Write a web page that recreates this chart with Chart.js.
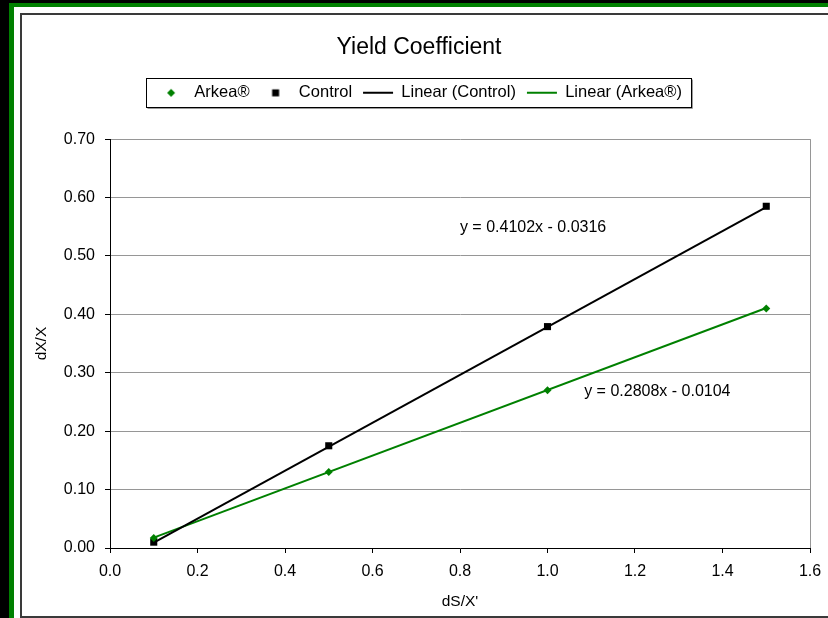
<!DOCTYPE html>
<html>
<head>
<meta charset="utf-8">
<title>Yield Coefficient</title>
<script src="https://cdn.jsdelivr.net/npm/chart.js@4.4.1/dist/chart.umd.min.js"></script>
<style>
  html, body { margin: 0; padding: 0; }
  body { background: #000; width: 828px; height: 618px; overflow: hidden; position: relative; }
  #frame { position: absolute; left: 9px; top: 3px; width: 819px; height: 615px; background: #008000; }
  #paper { position: absolute; left: 14px; top: 7px; width: 814px; height: 611px; background: #fff; }
  #box { position: absolute; left: 20px; top: 13px; width: 820px; height: 601px; border: 2px solid #3a3a3a; background: #fff; }
  #wrap { position: absolute; left: 22px; top: 0; width: 812px; height: 618px; }
</style>
</head>
<body>
<div id="frame"></div>
<div id="paper"></div>
<div id="box"></div>
<div id="wrap"><canvas id="yield"></canvas></div>
<script>
// values
var doses = [0.1, 0.5, 1.0, 1.5];          // dS/X'
var arkea = [0.017, 0.130, 0.270, 0.410];  // dX/X
var control = [0.010, 0.175, 0.379, 0.585];
var trendX = [0.1, 1.5];
var controlTrend = [0.0094, 0.5837];
var arkeaTrend = [0.0177, 0.4108];
var seriesNames = ["Arkea\u00AE", "Control", "Linear (Control)", "Linear (Arkea\u00AE)"];
var equations = ["y = 0.4102x - 0.0316", "y = 0.2808x - 0.0104"];
var xMax = 1.6, xStep = 0.2;
var yMax = 0.7, yStep = 0.1;

var GREEN = "#008000";
var FONT = "'Liberation Sans', Arial, sans-serif";

function pts(xs, ys) {
  return xs.map(function (x, i) { return {x: x, y: ys[i]}; });
}

// little icons for the marker entries of the legend
function icon(kind) {
  var c = document.createElement("canvas");
  c.width = 10; c.height = 10;
  var g = c.getContext("2d");
  if (kind == "diamond") {
    g.fillStyle = GREEN;
    g.beginPath();
    g.moveTo(1, 5); g.lineTo(5, 1); g.lineTo(9, 5); g.lineTo(5, 9);
    g.closePath(); g.fill();
  } else {
    g.fillStyle = "#000";
    g.fillRect(1.5, 1.5, 7, 7);
  }
  return c;
}
var legendIcons = [icon("diamond"), icon("square")];

// equation labels, anchored in data space
var eqAnchors = [[0.967, 0.548], [1.251, 0.2675]];
var equationPlugin = {
  id: "equations",
  afterDatasetsDraw: function (chart) {
    var ctx = chart.ctx, xs = chart.scales.x, ys = chart.scales.y;
    ctx.save();
    ctx.font = "16px " + FONT;
    ctx.fillStyle = "#000";
    ctx.textAlign = "center";
    ctx.textBaseline = "middle";
    equations.forEach(function (t, i) {
      ctx.fillText(t, xs.getPixelForValue(eqAnchors[i][0]), ys.getPixelForValue(eqAnchors[i][1]));
    });
    ctx.restore();
  }
};

// extra room under the legend + framed legend box
var legendGap = 28;
var legendBoxPlugin = {
  id: "legendBox",
  beforeLayout: function (chart) {
    var lg = chart.legend;
    if (lg && !lg._gapPatched) {
      var fit = lg.fit;
      lg.fit = function () { fit.call(this); this.height += legendGap; };
      lg._gapPatched = true;
    }
  },
  afterDraw: function (chart) {
    var hb = chart.legend && chart.legend.legendHitBoxes;
    if (!hb || !hb.length) return;
    var first = hb[0], last = hb[hb.length - 1];
    var cy = first.top + first.height / 2;
    var l = Math.round(first.left - 10) + 0.5;
    var r = Math.round(last.left + last.width + 9) + 0.5;
    var t = Math.round(cy - 15) + 0.5;
    var b = Math.round(cy + 14) + 0.5;
    var ctx = chart.ctx;
    ctx.save();
    ctx.strokeStyle = "#9a9a9a";
    ctx.lineWidth = 1;
    ctx.beginPath();
    ctx.moveTo(l + 1, b + 1); ctx.lineTo(r + 1, b + 1); ctx.lineTo(r + 1, t + 1);
    ctx.stroke();
    ctx.strokeStyle = "#000";
    ctx.strokeRect(l, t, r - l, b - t);
    ctx.restore();
  }
};

var chart = new Chart(document.getElementById("yield"), {
  type: "scatter",
  data: {
    datasets: [
      {
        label: seriesNames[0],
        data: pts(doses, arkea),
        pointStyle: "rectRot",
        pointRadius: 4,
        pointHoverRadius: 4,
        backgroundColor: GREEN,
        borderColor: GREEN,
        borderWidth: 0,
        showLine: false
      },
      {
        label: seriesNames[1],
        data: pts(doses, control),
        pointStyle: "rect",
        pointRadius: 5,
        pointHoverRadius: 5,
        backgroundColor: "#000",
        borderColor: "#000",
        borderWidth: 0,
        showLine: false
      },
      {
        label: seriesNames[2],
        data: pts(trendX, controlTrend),
        showLine: true,
        pointRadius: 0,
        pointStyle: "line",
        borderColor: "#000",
        backgroundColor: "#000",
        borderWidth: 2
      },
      {
        label: seriesNames[3],
        data: pts(trendX, arkeaTrend),
        showLine: true,
        pointRadius: 0,
        pointStyle: "line",
        borderColor: GREEN,
        backgroundColor: GREEN,
        borderWidth: 2
      }
    ]
  },
  options: {
    responsive: true,
    maintainAspectRatio: false,
    animation: false,
    layout: { padding: { left: 6, right: 24, top: 0, bottom: 0 } },
    plugins: {
      title: {
        display: true,
        text: "Yield Coefficient",
        color: "#000",
        font: { family: FONT, size: 23, weight: "normal" },
        padding: { top: 34, bottom: 12 }
      },
      legend: {
        display: true,
        position: "top",
        labels: {
          usePointStyle: true,
          pointStyleWidth: 30,
          padding: 11,
          color: "#000",
          font: { family: FONT, size: 16.5 },
          generateLabels: function (c) {
            var items = Chart.defaults.plugins.legend.labels.generateLabels(c);
            items.forEach(function (it) {
              if (legendIcons[it.datasetIndex]) it.pointStyle = legendIcons[it.datasetIndex];
            });
            return items;
          }
        }
      },
      tooltip: { enabled: false }
    },
    scales: {
      x: {
        type: "linear",
        min: 0,
        max: xMax,
        afterFit: function (s) { s.height = 70; },
        ticks: {
          stepSize: xStep,
          color: "#000",
          padding: 9,
          font: { family: FONT, size: 16 },
          callback: function (v) { return v.toFixed(1); }
        },
        grid: {
          color: function (c) { return c.tick && Math.abs(c.tick.value - xMax) < 1e-9 ? "#969696" : "rgba(0,0,0,0)"; },
          tickColor: "#000",
          tickLength: 5
        },
        border: { color: "#000", width: 1 },
        title: {
          display: true,
          text: "dS/X'",
          color: "#000",
          font: { family: FONT, size: 15.5 },
          padding: { top: 0, bottom: 7 }
        }
      },
      y: {
        type: "linear",
        min: 0,
        max: yMax,
        afterFit: function (s) { s.width = 82; },
        ticks: {
          stepSize: yStep,
          color: "#000",
          padding: 10,
          font: { family: FONT, size: 16 },
          callback: function (v) { return v.toFixed(2); }
        },
        grid: {
          color: "#969696",
          tickColor: "#000",
          tickLength: 5
        },
        border: { color: "#000", width: 1 },
        title: {
          display: true,
          text: "dX/X",
          color: "#000",
          font: { family: FONT, size: 15.5 },
          padding: { top: 4, bottom: 0 }
        }
      }
    }
  },
  plugins: [equationPlugin, legendBoxPlugin]
});
</script>
</body>
</html>
